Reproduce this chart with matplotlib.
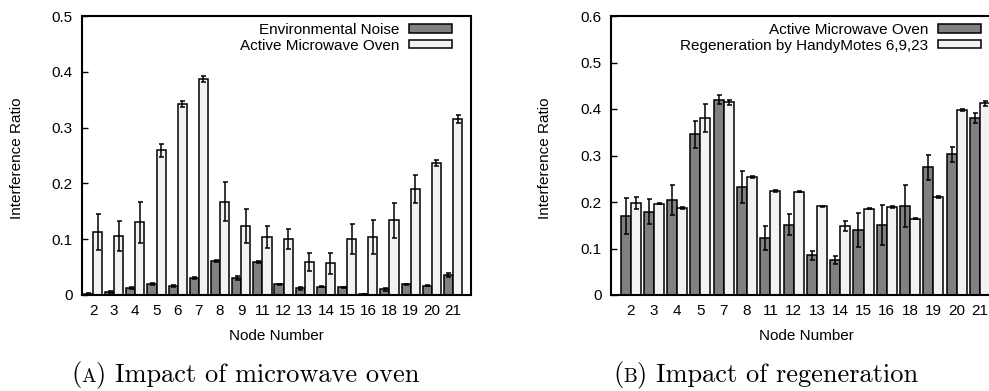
import numpy as np
import matplotlib.pyplot as plt
from matplotlib.offsetbox import TextArea, HPacker, AnnotationBbox

plt.rcParams['font.family'] = ['Liberation Sans', 'DejaVu Sans']

# (a) microwave oven vs environmental noise
nodes_a = ['2', '3', '4', '5', '6', '7', '8', '9', '11', '12', '13', '14',
           '15', '16', '18', '19', '20', '21']
noise = [0.002, 0.005, 0.012, 0.020, 0.016, 0.031, 0.061, 0.030, 0.059, 0.019,
         0.012, 0.015, 0.014, 0.002, 0.010, 0.019, 0.017, 0.036]
noise_err = [0.001, 0.002, 0.002, 0.002, 0.002, 0.002, 0.001, 0.004, 0.002, 0.001,
             0.003, 0.001, 0.001, 0.000, 0.003, 0.001, 0.001, 0.004]
oven_a = [0.113, 0.105, 0.130, 0.259, 0.342, 0.387, 0.167, 0.124, 0.104, 0.100,
          0.059, 0.057, 0.101, 0.104, 0.134, 0.190, 0.237, 0.316]
oven_a_err = [0.032, 0.027, 0.037, 0.012, 0.005, 0.006, 0.035, 0.031, 0.020, 0.018,
              0.016, 0.019, 0.027, 0.030, 0.031, 0.025, 0.005, 0.007]

# (b) microwave oven vs regeneration
nodes_b = ['2', '3', '4', '5', '7', '8', '11', '12', '13', '14', '15', '16',
           '18', '19', '20', '21']
oven_b = [0.170, 0.179, 0.204, 0.346, 0.420, 0.232, 0.123, 0.151, 0.085, 0.075,
          0.140, 0.151, 0.191, 0.275, 0.303, 0.381]
oven_b_err = [0.038, 0.027, 0.033, 0.029, 0.010, 0.035, 0.026, 0.023, 0.010, 0.008,
              0.037, 0.043, 0.045, 0.027, 0.016, 0.011]
regen = [0.197, 0.196, 0.187, 0.381, 0.414, 0.254, 0.224, 0.222, 0.191, 0.149,
         0.186, 0.189, 0.164, 0.210, 0.398, 0.412]
regen_err = [0.013, 0.001, 0.002, 0.030, 0.005, 0.002, 0.002, 0.001, 0.001, 0.011,
             0.001, 0.002, 0.001, 0.002, 0.002, 0.005]

dark = '#808080'
light = '#f2f2f2'
fs = 11
W, H = 989, 391

fig = plt.figure(figsize=(W / 100, H / 100), dpi=100)


def panel(rect, nodes, s1, e1, s2, e2, labels, ymax, xlim):
    ax = fig.add_axes(rect)
    x = np.arange(len(nodes))
    w = 0.43
    ekw = dict(elinewidth=1.1, capthick=1.1, ecolor='black')
    ax.bar(x - w / 2, s1, w, yerr=e1, color=dark, edgecolor='black',
           linewidth=1.1, capsize=1.8, error_kw=ekw, label=labels[0])
    ax.bar(x + w / 2, s2, w, yerr=e2, color=light, edgecolor='black',
           linewidth=1.1, capsize=1.8, error_kw=ekw, label=labels[1])
    ax.set_xlim(*xlim)
    ax.set_ylim(0, ymax)
    ax.set_xticks(x)
    ax.set_xticklabels(nodes)
    yt = np.round(np.arange(0, ymax + 0.001, 0.1), 1)
    ax.set_yticks(yt)
    ax.set_yticklabels(['%g' % v for v in yt])
    ax.tick_params(axis='y', direction='in', length=4, width=1, pad=6.5,
                   labelsize=fs)
    ax.tick_params(axis='x', length=0, pad=6.5, labelsize=fs)
    for sp in ax.spines.values():
        sp.set_linewidth(1.5)
    ax.legend(loc='upper right', markerfirst=False, frameon=False,
              fontsize=fs, handlelength=2.8, handleheight=0.45,
              handletextpad=0.65, labelspacing=0.1, borderpad=0,
              borderaxespad=0,
              bbox_to_anchor=(1 - 19 / 389, 1 - 7 / 279))
    return ax


def caption(xc, yc, letter, rest):
    # small-caps letter between parentheses, Computer Modern look
    big = dict(family='cmr10', fontsize=19)
    small = dict(family='cmr10', fontsize=14)
    box = HPacker(children=[TextArea('(', textprops=big),
                            TextArea(letter, textprops=small),
                            TextArea(') ' + rest, textprops=big)],
                  align='baseline', pad=0, sep=0)
    ab = AnnotationBbox(box, (xc / W, 1 - yc / H), xycoords='figure fraction',
                        frameon=False, box_alignment=(0.5, 0.5))
    fig.add_artist(ab)


bottom = (H - 295) / H
height = 279 / H
panel([82 / W, bottom, 389 / W, height], nodes_a, noise, noise_err,
      oven_a, oven_a_err, ['Environmental Noise', 'Active Microwave Oven'],
      0.5, (-0.52, 17.85))
panel([611 / W, bottom, 389 / W, height], nodes_b, oven_b, oven_b_err,
      regen, regen_err, ['Active Microwave Oven', 'Regeneration by HandyMotes 6,9,23'],
      0.6, (-0.84, 15.86))

for xc in (17, 545):
    fig.text(xc / W, 1 - 158 / H, 'Interference Ratio', rotation=90,
             ha='center', va='center', fontsize=fs)
for xc in (276, 806):
    fig.text(xc / W, 1 - 336 / H, 'Node Number', ha='center', va='center',
             fontsize=fs)

caption(245, 375, 'A', 'Impact of microwave oven')
caption(766, 375, 'B', 'Impact of regeneration')

fig.savefig('out.png', dpi=100)
